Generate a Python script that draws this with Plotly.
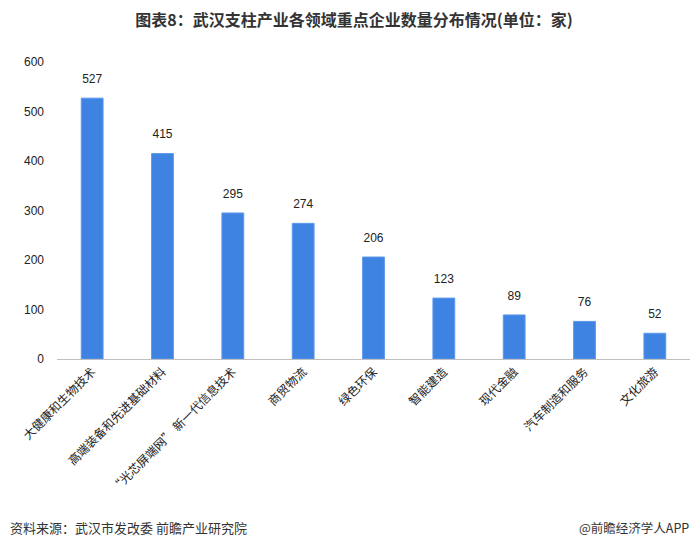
import plotly.graph_objects as go

categories = ["大健康和生物技术", "高端装备和先进基础材料", "“光芯屏端网” 新一代信息技术", "商贸物流",
              "绿色环保", "智能建造", "现代金融", "汽车制造和服务", "文化旅游"]
values = [527, 415, 295, 274, 206, 123, 89, 76, 52]
y_ticks = [0, 100, 200, 300, 400, 500, 600]

font_family = "Liberation Sans, Noto Sans CJK SC, sans-serif"
cjk = "Noto Sans CJK SC, sans-serif"

fig = go.Figure()
fig.add_trace(go.Bar(
    x=categories, y=values,
    marker=dict(color="#3F83E2", line=dict(color="#5C98EA", width=1)),
    hoverinfo="x+y",
))
fig.add_trace(go.Scatter(
    x=categories, y=values, mode="markers+text",
    marker=dict(size=18, opacity=0),
    text=[str(v) for v in values], textposition="top center",
    textfont=dict(size=12, color="#222222", family=font_family),
    cliponaxis=False, hoverinfo="skip",
))

# page has an 8px body margin; figure sized to fit the 700x546 window
fig.update_layout(
    width=692, height=538,
    margin=dict(l=49, r=10, t=54, b=187),
    paper_bgcolor="white", plot_bgcolor="white",
    bargap=0.69,
    showlegend=False,
    font=dict(family=font_family, size=12, color="#222222"),
    title=dict(text="<b>图表8：武汉支柱产业各领域重点企业数量分布情况(单位：家)</b>",
               x=0.5, xanchor="center", y=1 - 12 / 538, yanchor="middle",
               font=dict(size=16, color="#333333", family=cjk)),
)
fig.update_xaxes(
    range=[-0.5, len(categories) - 0.5],
    tickangle=-45, showline=True, linecolor="#BFBFBF", linewidth=1,
    showgrid=False, ticks="", tickfont=dict(size=12, color="#222222", family=cjk),
)
fig.update_yaxes(
    range=[0, 600], tickvals=y_ticks, showgrid=False, zeroline=False, showline=False,
    ticks="", ticklabelstandoff=12, tickfont=dict(size=12, color="#222222"),
)

src_y = (351 - 519) / 297
fig.add_annotation(text="资料来源：武汉市发改委 前瞻产业研究院", xref="paper", yref="paper",
                   x=-49 / 633, y=src_y, xanchor="left", yanchor="middle", showarrow=False,
                   font=dict(size=13, color="#333333", family=cjk))
fig.add_annotation(text="@前瞻经济学人APP", xref="paper", yref="paper",
                   x=(683 - 49) / 633, y=src_y, xanchor="right", yanchor="middle", showarrow=False,
                   font=dict(size=12.5, color="#333333", family=cjk))

fig.write_html("out.html")
